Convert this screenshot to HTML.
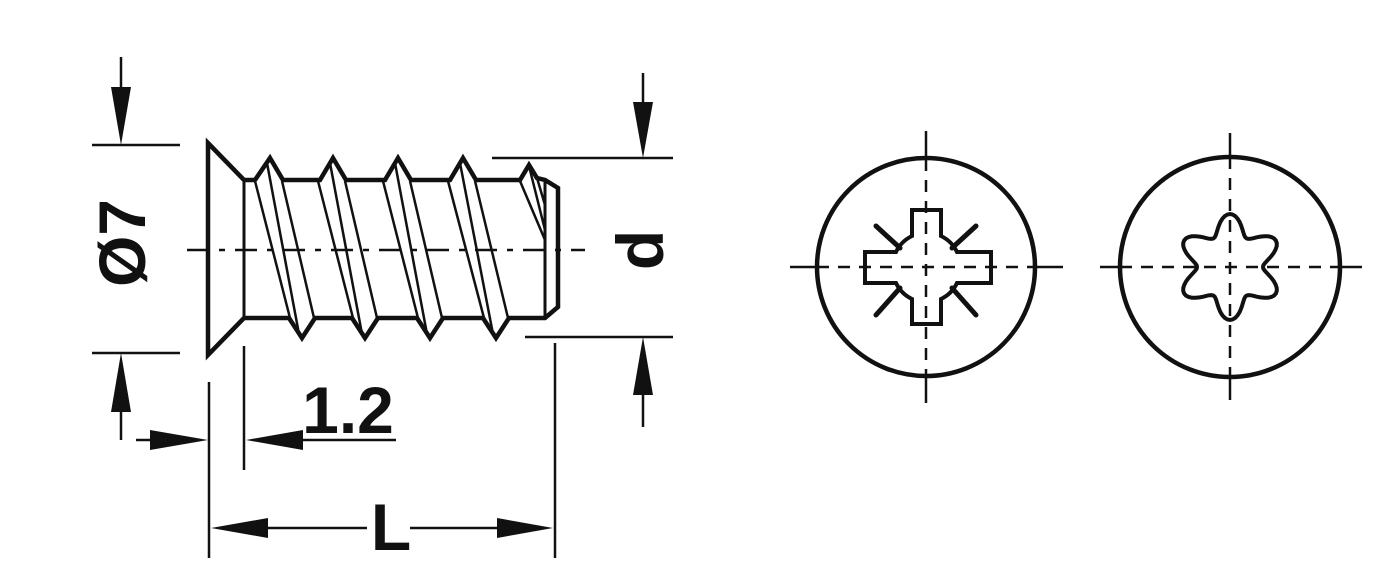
<!DOCTYPE html>
<html><head><meta charset="utf-8"><style>
html,body{margin:0;padding:0;background:#fff;}
svg{display:block}
text{font-family:"Liberation Sans",sans-serif;font-weight:bold;fill:#111}
</style></head><body>
<svg id="s" width="1377" height="566" viewBox="0 0 1377 566" xmlns="http://www.w3.org/2000/svg">
<g stroke="#111" fill="none" stroke-linejoin="miter">
<path stroke-width="4.5" d="M208,143 L244,180 L255,180 L270,158 L283,180 L320,180 L333,158 L346,180 L385,180 L398,158 L411,180 L450,180 L463,158 L476,180 L520,180 L529,165 L537,178 L545,180 L558,188 L558,307 L545,318 L509,318 L496,338 L483,318 L443,318 L430,338 L417,318 L378,318 L365,338 L352,318 L315,318 L302,338 L289,318 L244,318 L208,355 Z"/>
<line x1="244" y1="180" x2="244" y2="318" stroke-width="3"/>
<line x1="545" y1="182" x2="545" y2="318" stroke-width="3"/>
<g stroke-width="2.5" id="thr"></g>
<line x1="187" y1="250" x2="585" y2="250" stroke-width="2.5" stroke-dasharray="22,10,6,10"/>
<g stroke-width="2.5">
<line x1="92" y1="145" x2="180" y2="145"/>
<line x1="92" y1="353" x2="180" y2="353"/>
<line x1="121" y1="57" x2="121" y2="100"/>
<line x1="121" y1="400" x2="121" y2="440"/>
<line x1="492" y1="158" x2="673" y2="158"/>
<line x1="525" y1="337" x2="673" y2="337"/>
<line x1="643" y1="73" x2="643" y2="110"/>
<line x1="643" y1="380" x2="643" y2="427"/>
<line x1="209" y1="382" x2="209" y2="558"/>
<line x1="244" y1="346" x2="244" y2="470"/>
<line x1="555" y1="343" x2="555" y2="558"/>
<line x1="136" y1="440" x2="170" y2="440"/>
<line x1="270" y1="440" x2="396" y2="440"/>
<line x1="260" y1="528" x2="367" y2="528"/>
<line x1="410" y1="528" x2="510" y2="528"/>
</g>
</g>
<g fill="#111">
<polygon points="111,87 131,87 121,145"/>
<polygon points="111,412 131,412 121,353"/>
<polygon points="633,102 653,102 643,158"/>
<polygon points="633,395 653,395 643,337"/>
<polygon points="150,430 150,450 208,440"/>
<polygon points="303,430 303,450 246,440"/>
<polygon points="268,518 268,538 211,528"/>
<polygon points="497,518 497,538 553,528"/>
</g>
<text x="122" y="243" font-size="66" text-anchor="middle" dominant-baseline="central" transform="rotate(-90 122 243)">Ø7</text>
<text x="640" y="250" font-size="66" text-anchor="middle" dominant-baseline="central" transform="rotate(-90 640 250)">d</text>
<text x="348" y="433" font-size="66" text-anchor="middle">1.2</text>
<text x="391" y="550" font-size="66" text-anchor="middle">L</text>

<g stroke="#111" fill="none">
<circle cx="926" cy="267" r="109" stroke-width="4.5"/>
<line x1="790" y1="267" x2="817" y2="267" stroke-width="2.5"/>
<line x1="1035" y1="267" x2="1063" y2="267" stroke-width="2.5"/>
<line x1="817" y1="267" x2="1035" y2="267" stroke-width="2.5" stroke-dasharray="12,9"/>
<line x1="926" y1="131" x2="926" y2="159" stroke-width="2.5"/>
<line x1="926" y1="375" x2="926" y2="403" stroke-width="2.5"/>
<line x1="926" y1="159" x2="926" y2="375" stroke-width="2.5" stroke-dasharray="12,9"/>
<path stroke-width="4" d="M912,210 L941,210 L941,236 A34,34 0 0 1 957,252 L991,252 L991,283 L957,283 A34,34 0 0 1 941,299 L941,324 L912,324 L912,299 A34,34 0 0 1 896,283 L865,283 L865,252 L896,252 A34,34 0 0 1 912,236 Z"/>
<g stroke-width="5" stroke-linecap="round">
<line x1="876" y1="226" x2="900" y2="248"/>
<line x1="976" y1="226" x2="952" y2="248"/>
<line x1="876" y1="315" x2="900" y2="288"/>
<line x1="976" y1="315" x2="952" y2="288"/>
</g>
<circle cx="1230" cy="267" r="110" stroke-width="4.5"/>
<line x1="1100" y1="267" x2="1120" y2="267" stroke-width="2.5"/>
<line x1="1340" y1="267" x2="1362" y2="267" stroke-width="2.5"/>
<line x1="1120" y1="267" x2="1340" y2="267" stroke-width="2.5" stroke-dasharray="12,9"/>
<line x1="1230" y1="133" x2="1230" y2="157" stroke-width="2.5"/>
<line x1="1230" y1="377" x2="1230" y2="400" stroke-width="2.5"/>
<line x1="1230" y1="157" x2="1230" y2="377" stroke-width="2.5" stroke-dasharray="12,9"/>
<path id="torx" stroke-width="4"/>
</g>
</svg>
<script>
(function(){
var g=document.getElementById('thr'),ns='http://www.w3.org/2000/svg';
var tops=[270,333,398,463],bots=[302,365,430,496];
for(var i=0;i<4;i++){var t=tops[i],b=bots[i];
var L=[[t-15,181,b-12,318],[t-3,163,b-3,334],[t+12,181,b+12,318]];
L.forEach(function(l){var e=document.createElementNS(ns,'line');e.setAttribute('x1',l[0]);e.setAttribute('y1',l[1]);e.setAttribute('x2',l[2]);e.setAttribute('y2',l[3]);g.appendChild(e);});}
[[520,181,545,240],[529,166,545,230],[537,178,545,205]].forEach(function(l){var e=document.createElementNS(ns,'line');e.setAttribute('x1',l[0]);e.setAttribute('y1',l[1]);e.setAttribute('x2',l[2]);e.setAttribute('y2',l[3]);g.appendChild(e);});
var d='';for(var k=0;k<=360;k+=3){var a=k*Math.PI/180;var r=43+10*Math.cos(6*a);var x=1230+r*Math.sin(a),y=267-r*Math.cos(a);d+=(k?'L':'M')+x.toFixed(1)+','+y.toFixed(1);}
document.getElementById('torx').setAttribute('d',d+'Z');
})();
</script>
</body></html>
